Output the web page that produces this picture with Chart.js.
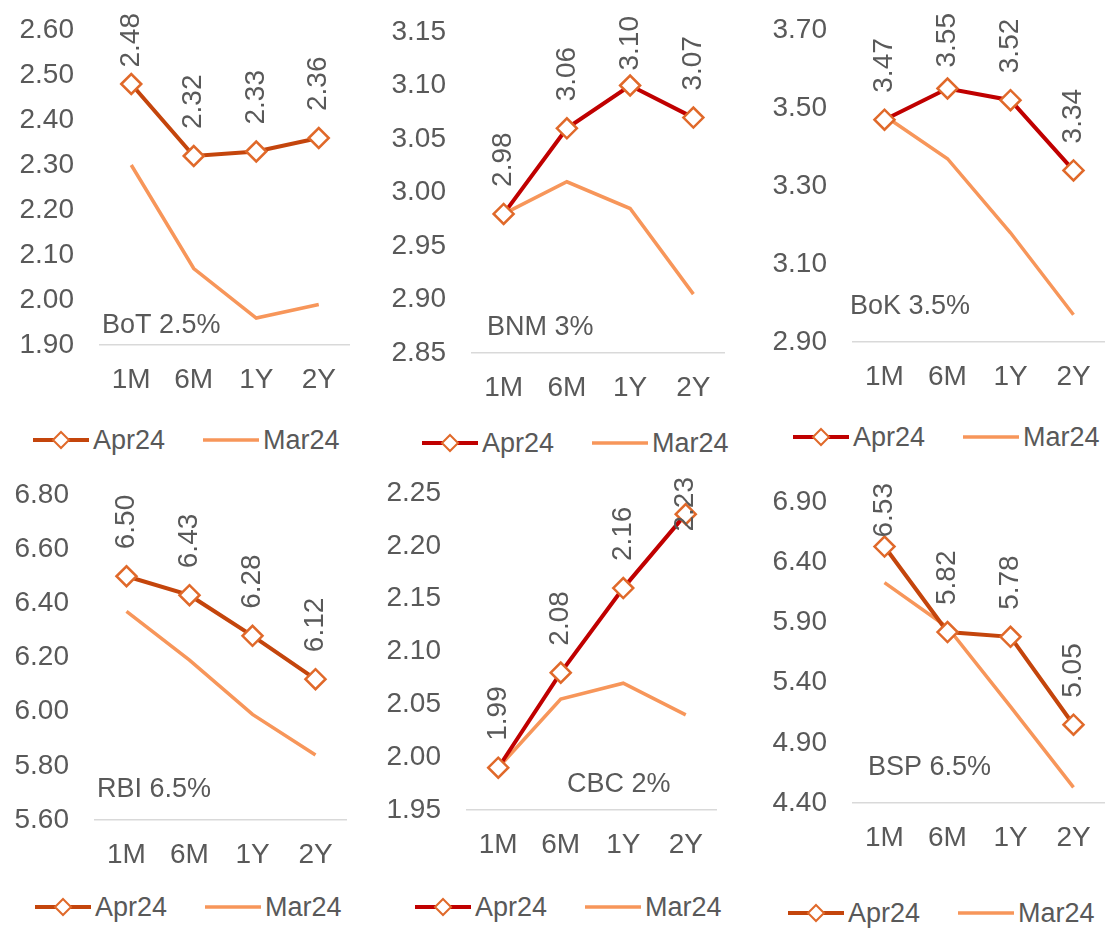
<!DOCTYPE html>
<html lang="en">
<head>
  <meta charset="UTF-8" />
  <title>Govt bond yields: Apr24 vs Mar24</title>
  <script src="https://cdn.jsdelivr.net/npm/chart.js@4.4.0/dist/chart.umd.min.js"></script>
  <style>
    body {
      margin: 0;
      background: #fff;
      font-family: 'Liberation Sans', Arial, sans-serif;
    }
    #wrap {
      position: relative;
      width: 1108px;
      height: 930px;
      overflow: hidden;
    }
    #wrap canvas {
      position: absolute;
    }
    .legend {
      position: absolute;
      display: flex;
      align-items: center;
      height: 34px;
      font-size: 27px;
      color: #595959;
      white-space: nowrap;
    }
    .legend svg { margin-right: 4px; }
    .legend .gap { width: 38px; }
  </style>
</head>
<body>
  <div id="wrap"></div>

  <script>
    // tenors on the x axis
    const tenors = ['1M', '6M', '1Y', '2Y'];

    // yields, % (Apr24 = current, Mar24 = previous month)
    const botApr = [2.48, 2.32, 2.33, 2.36];
    const botMar = [2.30, 2.07, 1.96, 1.99];
    const bnmApr = [2.98, 3.06, 3.10, 3.07];
    const bnmMar = [2.98, 3.01, 2.985, 2.905];
    const bokApr = [3.47, 3.55, 3.52, 3.34];
    const bokMar = [3.48, 3.37, 3.18, 2.97];
    const rbiApr = [6.50, 6.43, 6.28, 6.12];
    const rbiMar = [6.37, 6.19, 5.99, 5.84];
    const cbcApr = [1.99, 2.08, 2.16, 2.23];
    const cbcMar = [1.99, 2.055, 2.07, 2.04];
    const bspApr = [6.53, 5.82, 5.78, 5.05];
    const bspMar = [6.23, 5.86, 5.20, 4.53];

    // y axis tick labels
    const botTicks = [1.90, 2.00, 2.10, 2.20, 2.30, 2.40, 2.50, 2.60];
    const bnmTicks = [2.85, 2.90, 2.95, 3.00, 3.05, 3.10, 3.15];
    const bokTicks = [2.90, 3.10, 3.30, 3.50, 3.70];
    const rbiTicks = [5.60, 5.80, 6.00, 6.20, 6.40, 6.60, 6.80];
    const cbcTicks = [1.95, 2.00, 2.05, 2.10, 2.15, 2.20, 2.25];
    const bspTicks = [4.40, 4.90, 5.40, 5.90, 6.40, 6.90];

    // policy rate captions
    const notes = ['BoT 2.5%', 'BNM 3%', 'BoK 3.5%', 'RBI 6.5%', 'CBC 2%', 'BSP 6.5%'];
    const seriesNames = ['Apr24', 'Mar24'];

    const GREY = '#595959';
    const ORANGE_DARK = '#C4450C';
    const RED = '#C00000';
    const MARKER = '#E0692A';
    const LIGHT = '#F7965A';
    const FONT = "'Liberation Sans', Arial, sans-serif";

    // rotated value labels above Apr24 points
    const pointLabels = {
      id: 'pointLabels',
      afterDatasetsDraw(chart, args, opts) {
        const meta = chart.getDatasetMeta(0);
        const vals = chart.data.datasets[0].data;
        const ctx = chart.ctx;
        ctx.save();
        ctx.font = '28px ' + FONT;
        ctx.fillStyle = GREY;
        ctx.textAlign = 'left';
        ctx.textBaseline = 'middle';
        meta.data.forEach((pt, i) => {
          const txt = vals[i].toFixed(2);
          const w = ctx.measureText(txt).width;
          let start = pt.y - 27;
          if (start - w < opts.minTop) start = opts.minTop + w;
          ctx.save();
          ctx.translate(pt.x, start);
          ctx.rotate(-Math.PI / 2);
          ctx.fillText(txt, 0, 0);
          ctx.restore();
        });
        ctx.restore();
      }
    };

    // caption inside the plot (e.g. "BoT 2.5%")
    const noteText = {
      id: 'noteText',
      afterDraw(chart, args, opts) {
        const ctx = chart.ctx;
        ctx.save();
        ctx.font = '27px ' + FONT;
        ctx.fillStyle = GREY;
        ctx.textAlign = 'left';
        ctx.textBaseline = 'middle';
        ctx.fillText(opts.text, opts.x, opts.y);
        ctx.restore();
      }
    };

    // page positions of each panel
    const panels = [
      { apr: botApr, mar: botMar, ticks: botTicks, color: ORANGE_DARK, left: 0,   top: 0,   pl: 100, pr: 350,  pt: 30,  pb: 345, nx: 102, ny: 326, lx: 33,  ly: 440, minTop: 13 },
      { apr: bnmApr, mar: bnmMar, ticks: bnmTicks, color: RED,         left: 370, top: 0,   pl: 472, pr: 725,  pt: 32,  pb: 353, nx: 487, ny: 328, lx: 422, ly: 443, minTop: 16 },
      { apr: bokApr, mar: bokMar, ticks: bokTicks, color: RED,         left: 740, top: 0,   pl: 853, pr: 1105, pt: 30,  pb: 342, nx: 850, ny: 307, lx: 793, ly: 437, minTop: 13 },
      { apr: rbiApr, mar: rbiMar, ticks: rbiTicks, color: ORANGE_DARK, left: 0,   top: 460, pl: 95,  pr: 347,  pt: 495, pb: 820, nx: 97,  ny: 790, lx: 35,  ly: 907, minTop: 16 },
      { apr: cbcApr, mar: cbcMar, ticks: cbcTicks, color: RED,         left: 370, top: 460, pl: 467, pr: 717,  pt: 493, pb: 810, nx: 567, ny: 785, lx: 415, ly: 907, minTop: 17 },
      { apr: bspApr, mar: bspMar, ticks: bspTicks, color: ORANGE_DARK, left: 740, top: 460, pl: 853, pr: 1105, pt: 502, pb: 803, nx: 868, ny: 768, lx: 788, ly: 913, minTop: 23 }
    ];

    const wrap = document.getElementById('wrap');

    function legendSvg(color, marker) {
      let s = `<svg width="56" height="24"><line x1="0" y1="12" x2="56" y2="12" stroke="${color}" stroke-width="${marker ? 4 : 3.5}"/>`;
      if (marker) {
        s += `<polygon points="28,4 36,12 28,20 20,12" fill="#fff" stroke="${MARKER}" stroke-width="2"/>`;
      }
      return s + '</svg>';
    }

    panels.forEach((p, idx) => {
      const cw = p.pr - p.left;
      const ch = p.pb - p.top + 60;
      const canvas = document.createElement('canvas');
      canvas.width = cw;
      canvas.height = ch;
      canvas.style.left = p.left + 'px';
      canvas.style.top = p.top + 'px';
      canvas.style.width = cw + 'px';
      canvas.style.height = ch + 'px';
      wrap.appendChild(canvas);

      new Chart(canvas, {
        type: 'line',
        data: {
          labels: tenors,
          datasets: [
            {
              label: seriesNames[0],
              data: p.apr,
              borderColor: p.color,
              borderWidth: 4,
              pointStyle: 'rectRot',
              pointRadius: 10,
              pointBorderWidth: 2.5,
              pointBorderColor: MARKER,
              pointBackgroundColor: '#fff',
              tension: 0,
              clip: false
            },
            {
              label: seriesNames[1],
              data: p.mar,
              borderColor: LIGHT,
              borderWidth: 3.5,
              pointRadius: 0,
              tension: 0,
              clip: false
            }
          ]
        },
        options: {
          responsive: false,
          animation: false,
          events: [],
          layout: {
            autoPadding: false,
            padding: { top: p.pt - p.top, right: 0, left: 0, bottom: 0 }
          },
          plugins: {
            legend: { display: false },
            tooltip: { enabled: false },
            pointLabels: { minTop: p.minTop },
            noteText: { text: notes[idx], x: p.nx - p.left, y: p.ny - p.top }
          },
          scales: {
            x: {
              offset: true,
              grid: { display: false, drawTicks: false },
              border: { display: true, color: '#D9D9D9', width: 1.5 },
              ticks: { color: GREY, font: { family: FONT, size: 28 }, padding: 18, maxRotation: 0 },
              afterFit(s) {
                s.height = 60;
                s.paddingLeft = 0;
                s.paddingRight = 0;
              }
            },
            y: {
              min: p.ticks[0],
              max: p.ticks[p.ticks.length - 1],
              grid: { display: false, drawTicks: false },
              border: { display: false },
              ticks: {
                color: GREY,
                font: { family: FONT, size: 28 },
                padding: 26,
                callback: v => Number(v).toFixed(2)
              },
              afterBuildTicks(s) { s.ticks = p.ticks.map(v => ({ value: v })); },
              afterFit(s) {
                s.width = p.pl - p.left;
                s.paddingTop = 0;
                s.paddingBottom = 0;
              }
            }
          }
        },
        plugins: [pointLabels, noteText]
      });

      const lg = document.createElement('div');
      lg.className = 'legend';
      lg.style.left = p.lx + 'px';
      lg.style.top = (p.ly - 17) + 'px';
      lg.innerHTML = legendSvg(p.color, true) + `<span>${seriesNames[0]}</span><span class="gap"></span>` +
                     legendSvg(LIGHT, false) + `<span>${seriesNames[1]}</span>`;
      wrap.appendChild(lg);
    });
  </script>
</body>
</html>
